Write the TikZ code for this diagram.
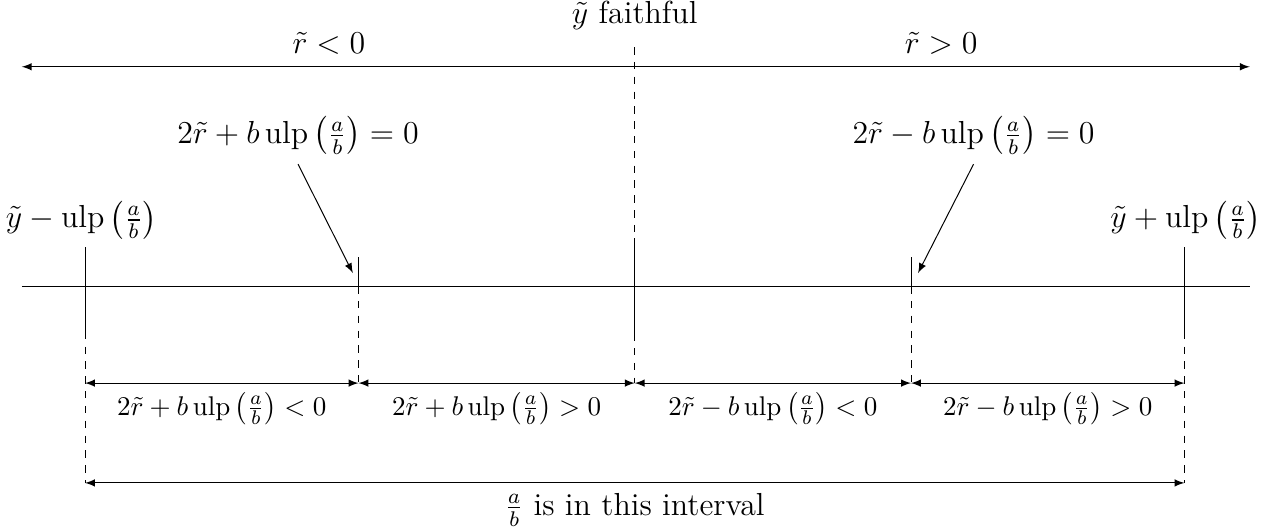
\documentclass[tikz,border=0pt]{standalone}
\usepackage{amsmath}
\DeclareMathOperator{\ulp}{ulp}

\newcommand*{\xmin}{-8.72}
\newcommand*{\xmax}{8.75}
\newcommand*{\xout}{7.82}
\newcommand*{\xin}{3.93}
\newcommand*{\ydim}{-1.38}
\newcommand*{\yall}{-2.80}

\begin{document}
\begin{tikzpicture}
[
	guide/.style={dashed},
	dimarrow/.style={latex-latex},
	big/.style={font=\large,scale=1.075},
	small/.style={font=\fontsize{10.95}{13}\selectfont},
	>=latex
]
	\useasboundingbox (-9.03,-3.47) rectangle (9.08,4.07);

	% number line
	\draw (\xmin,0) -- (\xmax,0);

	% sign of r
	\coordinate (topl) at (\xmin,3.12);
	\coordinate (topr) at (\xmax,3.12);
	\draw[dimarrow] (topl) -- (topr);
	\node[big] (rneg) at (-4.35,3.45) {$\tilde{r} < 0$};
	\node[big] (rpos) at (4.36,3.45) {$\tilde{r} > 0$};
	\node[big] (faith) at (0,3.85) {$\tilde{y}$ faithful};

	% ticks
	\coordinate (lo) at (-\xout,0);
	\coordinate (ml) at (-\xin,0);
	\coordinate (mid) at (0,0);
	\coordinate (mr) at (\xin,0);
	\coordinate (hi) at (\xout,0);

	\draw (-\xout,0.55) -- (-\xout,-0.65);
	\draw[guide] (-\xout,-0.65) -- (-\xout,\yall);
	\draw (\xout,0.55) -- (\xout,-0.65);
	\draw[guide] (\xout,-0.65) -- (\xout,\yall);

	\draw (-\xin,0.41) -- (ml);
	\draw[guide] (ml) -- (-\xin,\ydim);
	\draw (\xin,0.41) -- (mr);
	\draw[guide] (mr) -- (\xin,\ydim);

	\draw[guide] (0,3.40) -- (0,0.68);
	\draw (0,0.68) -- (0,-0.67);
	\draw[guide] (0,-0.67) -- (0,\ydim);

	% end labels
	\node[big] (ylo) at (-7.87,0.94) {$\tilde{y} - \ulp\left(\frac{a}{b}\right)$};
	\node[big] (yhi) at (7.84,0.94) {$\tilde{y} + \ulp\left(\frac{a}{b}\right)$};

	% zeros
	\node[big] (zp) at (-4.79,2.14) {$2\tilde{r} + b\ulp\left(\frac{a}{b}\right) = 0$};
	\node[big] (zm) at (4.82,2.14) {$2\tilde{r} - b\ulp\left(\frac{a}{b}\right) = 0$};
	\coordinate (pl) at (-4.01,0.185);
	\coordinate (pr) at (4.03,0.185);
	\draw[->] (zp.south) -- (pl);
	\draw[->] (zm.south) -- (pr);

	% sub intervals
	\coordinate (d1) at (-\xout,\ydim);
	\coordinate (d2) at (-\xin,\ydim);
	\coordinate (d3) at (0,\ydim);
	\coordinate (d4) at (\xin,\ydim);
	\coordinate (d5) at (\xout,\ydim);
	\draw[dimarrow] (d1) -- (d2) node[small,midway,yshift=-0.36cm] {$2\tilde{r} + b\ulp\left(\frac{a}{b}\right) < 0$};
	\draw[dimarrow] (d2) -- (d3) node[small,midway,yshift=-0.36cm] {$2\tilde{r} + b\ulp\left(\frac{a}{b}\right) > 0$};
	\draw[dimarrow] (d3) -- (d4) node[small,midway,yshift=-0.36cm] {$2\tilde{r} - b\ulp\left(\frac{a}{b}\right) < 0$};
	\draw[dimarrow] (d4) -- (d5) node[small,midway,yshift=-0.36cm] {$2\tilde{r} - b\ulp\left(\frac{a}{b}\right) > 0$};

	% whole interval
	\coordinate (all1) at (-\xout,\yall);
	\coordinate (all2) at (\xout,\yall);
	\draw[dimarrow] (all1) -- (all2) node[big,midway,yshift=-0.36cm] {$\frac{a}{b}$ is in this interval};

\end{tikzpicture}
\end{document}
